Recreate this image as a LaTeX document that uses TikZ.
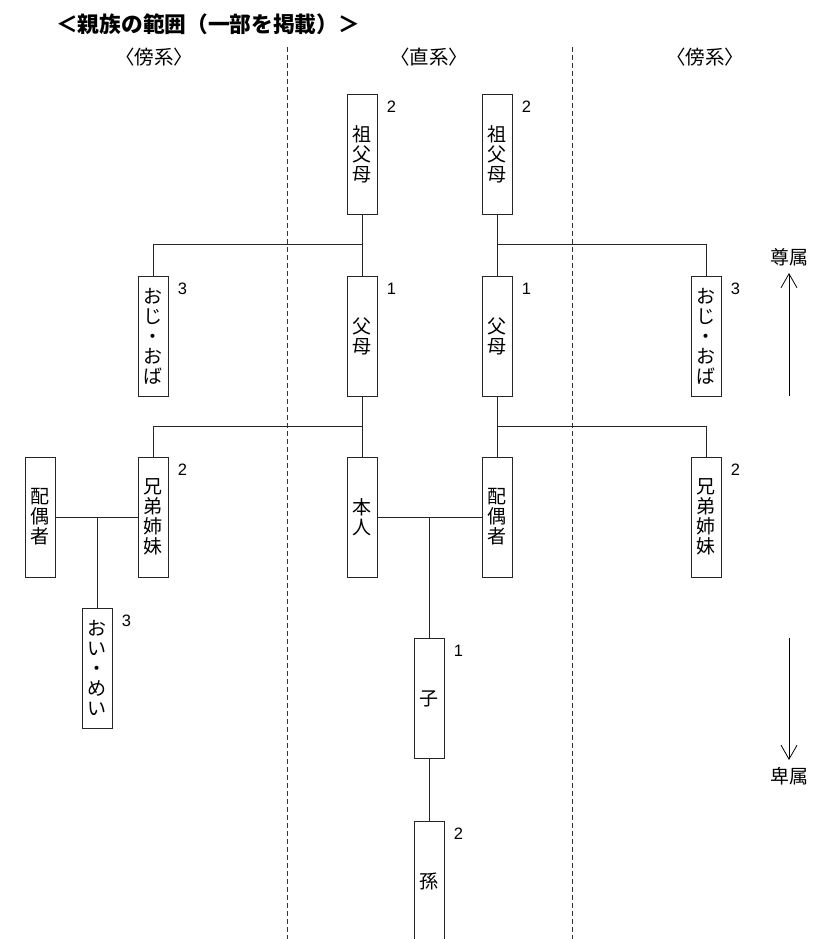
\documentclass[tikz,border=0pt]{standalone}
\usepackage{fontspec}
\setmainfont{Noto Sans CJK JP}
\newfontfamily\numfont{Liberation Sans}
\newfontfamily\headfont[RawFeature=+palt]{Noto Sans CJK JP}
\usetikzlibrary{arrows.meta}

\tikzset{
  kin/.style={draw=black!85,line width=.9pt,minimum width=30pt,minimum height=120pt,
    inner sep=0pt,align=center,font=\fontsize{19}{20}\selectfont},
  deg/.style={font=\numfont\fontsize{16.5}{16.5}\selectfont,inner sep=0pt},
  head/.style={font=\headfont\fontsize{19.5}{19.5}\selectfont,inner sep=0pt},
  tie/.style={draw=black!85,line width=.9pt},
  split/.style={draw=black!80,line width=.8pt,dash pattern=on 5pt off 3pt}
}

\begin{document}
\begin{tikzpicture}[x=1pt,y=-1pt,line cap=butt,>={Straight Barb[length=14pt,width=16pt]}]
  \useasboundingbox (0,0) rectangle (822,939);
  \clip (0,0) rectangle (822,939);
  \node[anchor=west,inner sep=0pt,font=\bfseries\fontsize{21.7}{21.7}\selectfont] (title) at (56,24) {＜親族の範囲（一部を掲載）＞};
  \node[head] (hdL) at (154,57) {〈傍系〉};
  \node[head] (hdC) at (429,57) {〈直系〉};
  \node[head] (hdR) at (705,57) {〈傍系〉};
  \draw[split] (287,47) -- (287,939);
  \draw[split] (572,47) -- (572,939);

  % grandparents
  \node[kin] (gpL) at (362,154.5) {祖\\父\\母};
  \node[kin] (gpR) at (497,154.5) {祖\\父\\母};
  % parents and uncles
  \node[kin] (unL) at (153,336) {お\\じ\\・\\お\\ば};
  \node[kin] (paL) at (362,336) {父\\母};
  \node[kin] (paR) at (497,336) {父\\母};
  \node[kin] (unR) at (706,336) {お\\じ\\・\\お\\ば};
  % own generation
  \node[kin] (spL) at (40,517) {配\\偶\\者};
  \node[kin] (sbL) at (153,517) {兄\\弟\\姉\\妹};
  \node[kin] (me) at (362,517) {本\\人};
  \node[kin] (spR) at (497,517) {配\\偶\\者};
  \node[kin] (sbR) at (706,517) {兄\\弟\\姉\\妹};
  % descendants
  \node[kin] (nep) at (97,668) {お\\い\\・\\め\\い};
  \node[kin] (ch) at (429,698.5) {子};
  \node[kin] (gch) at (429,881) {孫};

  % degrees
  \node[deg] (gpLd) at ([shift={(14,13)}]gpL.north east) {2};
  \node[deg] (gpRd) at ([shift={(14,13)}]gpR.north east) {2};
  \node[deg] (unLd) at ([shift={(14,13)}]unL.north east) {3};
  \node[deg] (paLd) at ([shift={(14,13)}]paL.north east) {1};
  \node[deg] (paRd) at ([shift={(14,13)}]paR.north east) {1};
  \node[deg] (unRd) at ([shift={(14,13)}]unR.north east) {3};
  \node[deg] (sbLd) at ([shift={(14,13)}]sbL.north east) {2};
  \node[deg] (sbRd) at ([shift={(14,13)}]sbR.north east) {2};
  \node[deg] (nepd) at ([shift={(14,13)}]nep.north east) {3};
  \node[deg] (chd) at ([shift={(14,13)}]ch.north east) {1};
  \node[deg] (gchd) at ([shift={(14,13)}]gch.north east) {2};

  % lines
  \coordinate (jA) at (362,244);
  \coordinate (jB) at (497,244);
  \coordinate (jC) at (362,426);
  \coordinate (jD) at (497,426);
  \coordinate (jE) at (429,517);
  \coordinate (jF) at (97,517);
  \draw[tie] (gpL) -- (paL);
  \draw[tie] (gpR) -- (paR);
  \draw[tie] (jA) -| (unL);
  \draw[tie] (jB) -| (unR);
  \draw[tie] (paL) -- (me);
  \draw[tie] (paR) -- (spR);
  \draw[tie] (jC) -| (sbL);
  \draw[tie] (jD) -| (sbR);
  \draw[tie] (me) -- (spR);
  \draw[tie] (jE) -- (ch);
  \draw[tie] (ch) -- (gch);
  \draw[tie] (spL) -- (sbL);
  \draw[tie] (jF) -- (nep);

  % direction
  \node[inner sep=0pt,font=\fontsize{19}{19}\selectfont] (up) at (789,257) {尊属};
  \node[inner sep=0pt,font=\fontsize{19}{19}\selectfont] (down) at (789,776) {卑属};
  \coordinate (upTail) at (789,396);
  \coordinate (downTail) at (789,638);
  \draw[->,line width=.8pt,shorten >=7pt] (upTail) -- (up);
  \draw[->,line width=.8pt,shorten >=7pt] (downTail) -- (down);
\end{tikzpicture}
\end{document}
